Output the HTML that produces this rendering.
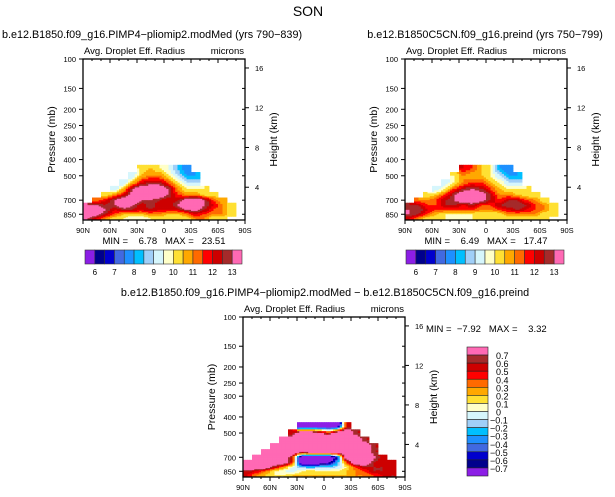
<!DOCTYPE html>
<html><head><meta charset="utf-8"><style>
body{margin:0;background:#fff;}
svg{display:block;font-family:"Liberation Sans",sans-serif;}
.pre{white-space:pre;}
</style></head><body>
<svg id="c" width="615" height="497" xmlns="http://www.w3.org/2000/svg">
<text x="308" y="16" font-size="14" text-anchor="middle">SON</text>
</svg>
<script>
const lats=[85,75,65,55,45,35,25,15,5,-5,-15,-25,-35,-45,-55,-65,-75,-85];
const levs=[450,500,550,600,650,700,750,800,850,900];
const n=null;
const fieldA=[
[n,n,n,n,n,n,10,10.5,10,9.5,8.5,7.5,n,n,n,n,n,n],
[n,n,n,n,n,9,10.5,11,11,10,9,8,8,n,n,n,n,n],
[n,n,n,n,9,10.5,12,12.5,12.5,11.5,10,9,9,n,n,n,n,n],
[n,n,n,9,10.5,13,14,14,14,13,11,10,10,10,n,n,n,n],
[n,n,10,11,12,13.5,14,14,14,13,11.5,11,11,10,10,n,n,n],
[n,11,12,13,14,14,13,13,12.5,12,12.5,13.5,14,13,11.5,10.5,n,n],
[13,13,12.5,13,14,13,12,13,12,12,13,14,14,13,12,11,10,n],
[14,14,13,12,12.5,12.5,12,12.5,12,12,12,13,13.5,12.5,11.5,11,10,n],
[14,13.5,12.5,11.5,10.5,10.5,10.5,11,11,10.5,10.5,11,12,11.5,11,11,10,n],
[13,12,11,10,10,9.5,9.5,10,10,10,10,10,11,11,10,10,n,n]];
const fieldB=[
[n,n,n,n,n,n,12,11.5,10.5,10,8,7.5,n,n,n,n,n,n],
[n,n,n,n,n,10,11,10.5,10.5,10,9,8,8,n,n,n,n,n],
[n,n,n,n,9,10,11,11.5,11.5,10.5,10,9,9,n,n,n,n,n],
[n,n,n,9,10,11.5,12.5,13,12.5,11.5,10.5,10,10,10,n,n,n,n],
[n,n,10,10.5,11.5,13,14,14,13.5,12.5,11,11,10.5,10,10,n,n,n],
[n,11,11,11.5,12.5,13,14,14,13.5,12.5,11.5,12.5,12.5,11.5,11,10,n,n],
[12.5,12.5,11.5,11.5,12.5,12.5,12,12.5,11.5,11.5,12.5,13,13,12.5,11.5,11,10,n],
[13,13,12,11.5,11.5,11.5,11.5,11.5,11,11,11.5,12,12.5,12,11.5,11,10,n],
[13,12.5,11.5,10.5,10,10,10,10,10,10,10,11,11,11,11,10,10,n],
[12,11,10,10,10,9.5,9.5,10,10,10,10,10,10,10,10,10,n,n]];
const fieldC=[
[n,n,n,n,n,n,-1,-1,-1,-1,-1,0.5,n,n,n,n,n,n],
[n,n,n,n,n,0.5,1,1,0.8,0.5,1,1,0.6,n,n,n,n,n],
[n,n,n,n,1,1,1,1,1,1,1,1,1,0.6,n,n,n,n],
[n,n,n,1,1,1,1,1,1,1,1,1,1,1,0.6,n,n,n],
[n,n,1,1,1,1,0.8,1,1,1,1,1,1,1,0.6,n,n,n],
[n,1,1,1,1,0.5,-1,-1,-1,-1,-0.6,1,1,1,0.8,0.5,n,n],
[1,1,1,1,1,0.5,-1,-1,-1,-0.8,-0.3,0.4,1,1,0.6,0.5,0.5,n],
[1,1,1,0.6,0.3,0,-0.2,-0.3,-0.2,-0.2,-0.1,0.1,0.4,0.6,0.6,0.6,0.5,n],
[0.6,0.5,0.3,0.1,0,-0.1,0.1,0.2,0.1,0.1,0.1,0.2,0.3,0.4,0.6,0.6,0.5,n],
[0.5,0.3,0.2,0.1,0.1,0.2,0.2,0.2,0.2,0.2,0.2,0.2,0.3,0.3,0.4,0.5,0.6,n]];
const levelsTop=[6,6.5,7,7.5,8,8.5,9,9.5,10,10.5,11,11.5,12,12.5,13];
const levelsDiff=[-0.7,-0.6,-0.5,-0.4,-0.3,-0.2,-0.1,0,0.1,0.2,0.3,0.4,0.5,0.6,0.7];
const pTicks=[100,150,200,250,300,400,500,700,850];
const zTicks=[4,8,12,16];
const latTicks=[90,60,30,0,-30,-60,-90];
const latLabels=["90N","60N","30N","0","30S","60S","90S"];
const colors=["#8c1ee6","#00008c","#0000cd","#4169e1","#1e90ff","#00bfff","#a0cff8","#d6f6fc","#ffffc8","#ffe033","#ffa800","#ff6a00","#ff0000","#cd0000","#a52a2a","#ff69b4"];
const NS="http://www.w3.org/2000/svg";
const svg=document.getElementById('c');
function mk(tag,attrs,parent){const e=document.createElementNS(NS,tag);for(const k in attrs)e.setAttribute(k,attrs[k]);(parent||svg).appendChild(e);return e;}
function txt(x,y,s,size,anchor,parent){const t=mk('text',{x:x,y:y,'font-size':size,'text-anchor':anchor||'middle'},parent);t.textContent=s;return t;}
function colorOf(v,lv){let i=0;while(i<lv.length&&v>=lv[i])i++;return colors[i];}
const PBOT=920;
function panel(name,x0,y0,W,H,field,lv,title,tx,minmax){
  const g=mk('g',{});
  
  
  const xs=lat=>x0+(90-lat)/180*W;
  const ys=p=>y0+(Math.log10(p)-2)/Math.log10(PBOT/100)*H;
  const lb=[];for(let i=0;i<=levs.length;i++){if(i==0)lb.push(430);else if(i==levs.length)lb.push(PBOT);else lb.push((levs[i-1]+levs[i])/2);}
  const S=4;
  function val(r,c){if(r<0||r>=levs.length||c<0||c>=lats.length)return null;return field[r][c];}
  for(let r=0;r<levs.length;r++)for(let c=0;c<lats.length;c++){
    const v0=field[r][c];if(v0===null)continue;
    const la0=90-c*10,ya=ys(lb[r]),yb=ys(lb[r+1]);
    for(let a=0;a<S;a++)for(let b=0;b<S;b++){
      const fx=(a+0.5)/S-0.5,fy=(b+0.5)/S-0.5;
      const dc=fx<0?-1:1,dr=fy<0?-1:1;
      const wx=Math.abs(fx),wy=Math.abs(fy);
      let v1=val(r,c+dc),v2=val(r+dr,c),v3=val(r+dr,c+dc);
      if(v1===null)v1=v0;if(v2===null)v2=v0;if(v3===null)v3=(v1+v2)/2;
      const v=v0*(1-wx)*(1-wy)+v1*wx*(1-wy)+v2*(1-wx)*wy+v3*wx*wy;
      const rx=xs(la0-a*10/S),rw=W/18/S;
      const ry=ya+(yb-ya)*b/S,rh=(yb-ya)/S;
      const cell=mk('rect',{x:rx.toFixed(2),y:ry.toFixed(2),width:(rw+0.4).toFixed(2),height:(rh+0.4).toFixed(2),fill:colorOf(v,lv)},g);
      
      
    }
  }
  const fr=mk('rect',{x:x0,y:y0,width:W,height:H,fill:'none',stroke:'#000','stroke-width':1.3},g);
  
  
  pTicks.forEach(p=>{const y=ys(p);mk('line',{x1:x0-4,x2:x0,y1:y,y2:y,stroke:'#000'},g);mk('line',{x1:x0+W,x2:x0+W-3,y1:y,y2:y,stroke:'#000'},g);
    const t=txt(x0-7,y+3,String(p),7.5,'end',g);});
  zTicks.forEach(z=>{const p=1013*Math.exp(-z/7.3);const y=ys(p);mk('line',{x1:x0+W,x2:x0+W+4,y1:y,y2:y,stroke:'#000'},g);
    const t=txt(x0+W+10,y+3,String(z),7.5,'start',g);});
  for(let l=90;l>=-90;l-=10){const x=xs(l);const big=l%30==0;mk('line',{x1:x,x2:x,y1:y0+H,y2:y0+H+(big?4:2),stroke:'#000'},g);mk('line',{x1:x,x2:x,y1:y0,y2:y0+(big?4:2),stroke:'#000'},g);}
  latTicks.forEach((l,i)=>{const t=txt(xs(l),y0+H+13,latLabels[i],7.5,'middle',g);});
  const yl=txt(0,0,'Pressure (mb)',10.5,'middle',g);yl.setAttribute('transform',`translate(${x0-28},${y0+H/2}) rotate(-90)`);
  
  const hl=txt(0,0,'Height (km)',10.5,'middle',g);hl.setAttribute('transform',`translate(${x0+W+32},${y0+H/2}) rotate(-90)`);
  
  const lt=txt(x0+1,y0-5,'Avg. Droplet Eff. Radius',9.5,'start',g);
  const ut=txt(x0+W-1,y0-5,'microns',9.5,'end',g);
  const tt=txt(tx,y0-21,title,10.8,'middle',g);
  if(minmax){const m=txt(x0+W/2,y0+H+24,minmax,9.5,'middle',g);m.setAttribute('class','pre');}
}
function hbar(name,x0,y0,W,H){
  const g=mk('g',{});
  const bw=W/16;
  colors.forEach((c,i)=>{const r=mk('rect',{x:x0+i*bw,y:y0,width:bw,height:H,fill:c,stroke:'#333','stroke-width':0.6},g);});
  levelsTop.forEach((v,i)=>{if(i%2==0){const t=txt(x0+(i+1)*bw,y0+H+11,String(v),8,'middle',g);}});
}
function vbar(name,x0,y0,W,H){
  const g=mk('g',{});
  const bh=H/16;
  colors.slice().reverse().forEach((c,i)=>{const r=mk('rect',{x:x0,y:y0+i*bh,width:W,height:bh,fill:c,stroke:'#222','stroke-width':0.6},g);});
  levelsDiff.slice().reverse().forEach((v,i)=>{const s=v===0?'0':(v<0?'\u2212':'')+Math.abs(v).toFixed(1);const t=txt(x0+W+(v<0?2:8),y0+(i+1)*bh+4,s,9,'start',g);});
}
panel('panel-pliocene',83,59,162,161,fieldA,levelsTop,'b.e12.B1850.f09_g16.PIMP4\u2212pliomip2.modMed (yrs 790\u2212839)',152,'MIN =    6.78   MAX =   23.51');
panel('panel-preindustrial',405,59,162,161,fieldB,levelsTop,'b.e12.B1850C5CN.f09_g16.preind (yrs 750\u2212799)',485,'MIN =    6.49   MAX =   17.47');
panel('panel-difference',243,317,162,160,fieldC,levelsDiff,'b.e12.B1850.f09_g16.PIMP4\u2212pliomip2.modMed \u2212 b.e12.B1850C5CN.f09_g16.preind',325,null);
hbar('colorbar-left',85,250,157,14);
hbar('colorbar-right',406,250,158,14);
vbar('colorbar-difference',467,347,21,129);
const mm=txt(426,332,'MIN =  \u22127.92   MAX =    3.32',9.5,'start');
mm.setAttribute('class','pre');


</script>
</body></html>
